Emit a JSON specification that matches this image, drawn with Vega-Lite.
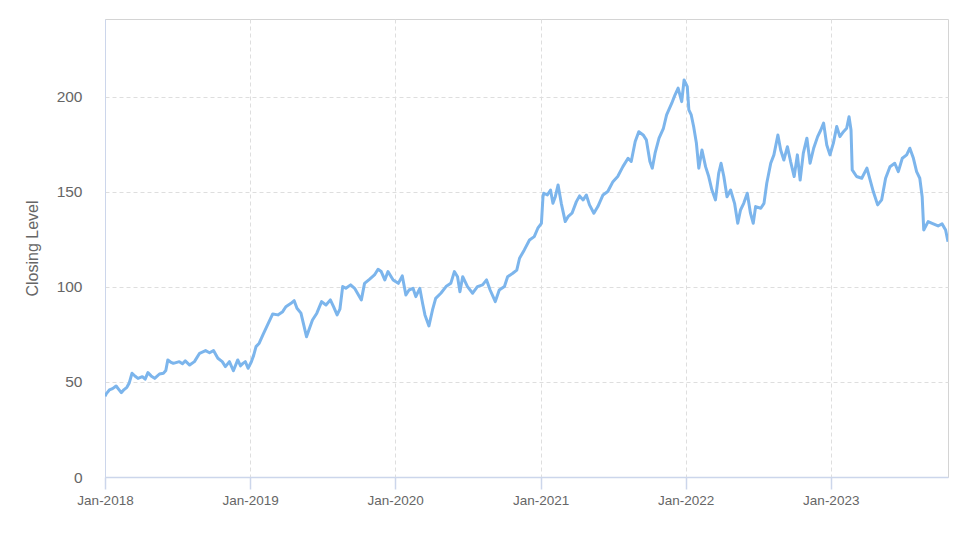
{
  "$schema": "https://vega.github.io/schema/vega-lite/v6.json",
  "width": 843,
  "height": 458,
  "autosize": {"type": "none"},
  "padding": {"left": 105, "top": 19, "right": 26, "bottom": 70},
  "background": "#ffffff",
  "config": {
    "view": {"stroke": "#d4d4d4", "strokeWidth": 1},
    "font": "Liberation Sans"
  },
  "data": {
    "values": [
      {"date": "2018-01-01", "close": 42.5},
      {"date": "2018-01-05", "close": 44.0},
      {"date": "2018-01-12", "close": 45.8},
      {"date": "2018-01-20", "close": 46.5},
      {"date": "2018-01-29", "close": 47.9},
      {"date": "2018-02-05", "close": 46.0},
      {"date": "2018-02-11", "close": 44.4},
      {"date": "2018-02-18", "close": 46.0},
      {"date": "2018-02-25", "close": 47.2},
      {"date": "2018-03-03", "close": 49.5},
      {"date": "2018-03-10", "close": 54.6},
      {"date": "2018-03-18", "close": 53.0},
      {"date": "2018-03-25", "close": 51.9},
      {"date": "2018-04-05", "close": 52.8},
      {"date": "2018-04-12", "close": 51.5},
      {"date": "2018-04-19", "close": 54.9},
      {"date": "2018-04-27", "close": 53.2},
      {"date": "2018-05-06", "close": 51.9},
      {"date": "2018-05-18", "close": 54.2},
      {"date": "2018-05-28", "close": 54.6},
      {"date": "2018-06-03", "close": 56.0},
      {"date": "2018-06-08", "close": 61.6},
      {"date": "2018-06-15", "close": 60.5},
      {"date": "2018-06-22", "close": 59.8},
      {"date": "2018-07-07", "close": 60.7},
      {"date": "2018-07-15", "close": 59.6},
      {"date": "2018-07-22", "close": 61.1},
      {"date": "2018-08-02", "close": 58.9},
      {"date": "2018-08-14", "close": 60.7},
      {"date": "2018-08-27", "close": 65.1},
      {"date": "2018-09-11", "close": 66.5},
      {"date": "2018-09-21", "close": 65.4},
      {"date": "2018-10-01", "close": 66.5},
      {"date": "2018-10-12", "close": 62.5},
      {"date": "2018-10-23", "close": 60.7},
      {"date": "2018-10-31", "close": 58.1},
      {"date": "2018-11-10", "close": 60.7},
      {"date": "2018-11-20", "close": 55.9},
      {"date": "2018-12-01", "close": 61.6},
      {"date": "2018-12-08", "close": 58.5},
      {"date": "2018-12-14", "close": 59.8},
      {"date": "2018-12-20", "close": 60.7},
      {"date": "2018-12-27", "close": 57.2},
      {"date": "2019-01-04", "close": 60.5},
      {"date": "2019-01-10", "close": 64.0},
      {"date": "2019-01-16", "close": 68.6},
      {"date": "2019-01-24", "close": 70.4},
      {"date": "2019-02-02", "close": 74.7},
      {"date": "2019-02-14", "close": 80.0},
      {"date": "2019-02-27", "close": 85.8},
      {"date": "2019-03-12", "close": 85.3},
      {"date": "2019-03-24", "close": 87.0},
      {"date": "2019-04-01", "close": 89.6},
      {"date": "2019-04-14", "close": 91.4},
      {"date": "2019-04-22", "close": 92.8},
      {"date": "2019-04-29", "close": 88.8},
      {"date": "2019-05-09", "close": 86.2},
      {"date": "2019-05-16", "close": 80.0},
      {"date": "2019-05-23", "close": 73.8},
      {"date": "2019-05-29", "close": 77.4},
      {"date": "2019-06-07", "close": 82.6},
      {"date": "2019-06-18", "close": 86.2},
      {"date": "2019-06-30", "close": 92.3},
      {"date": "2019-07-11", "close": 90.5},
      {"date": "2019-07-22", "close": 93.2},
      {"date": "2019-07-30", "close": 89.6},
      {"date": "2019-08-08", "close": 85.3},
      {"date": "2019-08-15", "close": 88.3},
      {"date": "2019-08-22", "close": 100.2},
      {"date": "2019-08-30", "close": 99.3},
      {"date": "2019-09-11", "close": 101.1},
      {"date": "2019-09-21", "close": 99.3},
      {"date": "2019-10-08", "close": 93.2},
      {"date": "2019-10-16", "close": 101.9},
      {"date": "2019-10-29", "close": 104.1},
      {"date": "2019-11-10", "close": 106.3},
      {"date": "2019-11-19", "close": 109.3},
      {"date": "2019-11-27", "close": 108.1},
      {"date": "2019-12-06", "close": 103.7},
      {"date": "2019-12-14", "close": 108.1},
      {"date": "2019-12-27", "close": 103.7},
      {"date": "2020-01-09", "close": 101.9},
      {"date": "2020-01-19", "close": 105.8},
      {"date": "2020-01-28", "close": 95.8},
      {"date": "2020-02-05", "close": 98.4},
      {"date": "2020-02-15", "close": 99.3},
      {"date": "2020-02-22", "close": 94.9},
      {"date": "2020-03-03", "close": 99.3},
      {"date": "2020-03-10", "close": 91.4},
      {"date": "2020-03-16", "close": 85.3},
      {"date": "2020-03-26", "close": 79.5},
      {"date": "2020-04-04", "close": 87.9},
      {"date": "2020-04-12", "close": 94.0},
      {"date": "2020-04-25", "close": 96.7},
      {"date": "2020-05-08", "close": 100.2},
      {"date": "2020-05-20", "close": 101.9},
      {"date": "2020-05-29", "close": 108.1},
      {"date": "2020-06-06", "close": 105.4},
      {"date": "2020-06-12", "close": 97.5},
      {"date": "2020-06-19", "close": 105.4},
      {"date": "2020-07-01", "close": 100.2},
      {"date": "2020-07-14", "close": 96.7},
      {"date": "2020-07-26", "close": 100.2},
      {"date": "2020-08-08", "close": 101.1},
      {"date": "2020-08-18", "close": 103.7},
      {"date": "2020-08-27", "close": 98.4},
      {"date": "2020-09-09", "close": 92.3},
      {"date": "2020-09-19", "close": 98.4},
      {"date": "2020-10-02", "close": 100.2},
      {"date": "2020-10-10", "close": 105.4},
      {"date": "2020-10-23", "close": 107.2},
      {"date": "2020-11-02", "close": 108.9},
      {"date": "2020-11-09", "close": 115.1},
      {"date": "2020-11-21", "close": 119.5},
      {"date": "2020-12-04", "close": 124.7},
      {"date": "2020-12-16", "close": 126.5},
      {"date": "2020-12-25", "close": 130.9},
      {"date": "2021-01-03", "close": 133.5},
      {"date": "2021-01-07", "close": 147.5},
      {"date": "2021-01-09", "close": 149.3},
      {"date": "2021-01-18", "close": 148.4},
      {"date": "2021-01-26", "close": 151.0},
      {"date": "2021-02-01", "close": 144.0},
      {"date": "2021-02-07", "close": 147.5},
      {"date": "2021-02-14", "close": 153.7},
      {"date": "2021-02-22", "close": 144.0},
      {"date": "2021-03-04", "close": 134.4},
      {"date": "2021-03-11", "close": 137.0},
      {"date": "2021-03-21", "close": 138.8},
      {"date": "2021-04-01", "close": 144.9},
      {"date": "2021-04-09", "close": 147.9},
      {"date": "2021-04-18", "close": 145.8},
      {"date": "2021-04-26", "close": 148.4},
      {"date": "2021-05-04", "close": 143.2},
      {"date": "2021-05-15", "close": 138.8},
      {"date": "2021-05-25", "close": 142.3},
      {"date": "2021-06-07", "close": 148.4},
      {"date": "2021-06-19", "close": 150.2},
      {"date": "2021-07-02", "close": 155.4},
      {"date": "2021-07-14", "close": 158.1},
      {"date": "2021-07-27", "close": 163.3},
      {"date": "2021-08-09", "close": 167.7},
      {"date": "2021-08-17", "close": 166.0},
      {"date": "2021-08-27", "close": 176.5},
      {"date": "2021-09-05", "close": 181.7},
      {"date": "2021-09-16", "close": 180.0},
      {"date": "2021-09-24", "close": 177.4},
      {"date": "2021-10-03", "close": 166.0},
      {"date": "2021-10-09", "close": 162.5},
      {"date": "2021-10-16", "close": 170.4},
      {"date": "2021-10-26", "close": 178.3},
      {"date": "2021-11-06", "close": 183.5},
      {"date": "2021-11-14", "close": 190.5},
      {"date": "2021-11-27", "close": 196.7},
      {"date": "2021-12-05", "close": 201.0},
      {"date": "2021-12-13", "close": 204.6},
      {"date": "2021-12-22", "close": 197.5},
      {"date": "2021-12-28", "close": 208.9},
      {"date": "2022-01-05", "close": 205.4},
      {"date": "2022-01-09", "close": 193.2},
      {"date": "2022-01-15", "close": 190.5},
      {"date": "2022-01-21", "close": 184.4},
      {"date": "2022-01-28", "close": 175.6},
      {"date": "2022-02-03", "close": 162.5},
      {"date": "2022-02-11", "close": 172.1},
      {"date": "2022-02-20", "close": 163.3},
      {"date": "2022-02-28", "close": 158.1},
      {"date": "2022-03-08", "close": 151.0},
      {"date": "2022-03-17", "close": 145.8},
      {"date": "2022-03-25", "close": 159.8},
      {"date": "2022-03-31", "close": 165.1},
      {"date": "2022-04-07", "close": 158.1},
      {"date": "2022-04-15", "close": 147.5},
      {"date": "2022-04-24", "close": 151.0},
      {"date": "2022-05-04", "close": 144.0},
      {"date": "2022-05-12", "close": 133.5},
      {"date": "2022-05-19", "close": 140.5},
      {"date": "2022-05-27", "close": 144.0},
      {"date": "2022-06-05", "close": 149.3},
      {"date": "2022-06-13", "close": 138.8},
      {"date": "2022-06-20", "close": 133.5},
      {"date": "2022-06-26", "close": 142.3},
      {"date": "2022-07-09", "close": 141.4},
      {"date": "2022-07-17", "close": 144.0},
      {"date": "2022-07-24", "close": 154.6},
      {"date": "2022-08-03", "close": 165.1},
      {"date": "2022-08-11", "close": 169.5},
      {"date": "2022-08-21", "close": 180.0},
      {"date": "2022-08-28", "close": 172.1},
      {"date": "2022-09-05", "close": 166.8},
      {"date": "2022-09-14", "close": 173.8},
      {"date": "2022-09-22", "close": 166.0},
      {"date": "2022-10-01", "close": 158.1},
      {"date": "2022-10-09", "close": 169.5},
      {"date": "2022-10-16", "close": 156.3},
      {"date": "2022-10-24", "close": 170.4},
      {"date": "2022-11-02", "close": 178.3},
      {"date": "2022-11-10", "close": 165.1},
      {"date": "2022-11-19", "close": 173.0},
      {"date": "2022-11-29", "close": 179.1},
      {"date": "2022-12-07", "close": 182.6},
      {"date": "2022-12-14", "close": 186.2},
      {"date": "2022-12-22", "close": 174.7},
      {"date": "2022-12-30", "close": 169.5},
      {"date": "2023-01-08", "close": 176.0},
      {"date": "2023-01-16", "close": 184.4},
      {"date": "2023-01-24", "close": 179.1},
      {"date": "2023-02-02", "close": 181.7},
      {"date": "2023-02-10", "close": 183.5},
      {"date": "2023-02-16", "close": 189.6},
      {"date": "2023-02-21", "close": 182.6},
      {"date": "2023-02-24", "close": 161.6},
      {"date": "2023-03-07", "close": 158.1},
      {"date": "2023-03-20", "close": 157.2},
      {"date": "2023-04-02", "close": 162.5},
      {"date": "2023-04-10", "close": 156.3},
      {"date": "2023-04-18", "close": 150.2},
      {"date": "2023-04-29", "close": 143.2},
      {"date": "2023-05-09", "close": 145.8},
      {"date": "2023-05-19", "close": 157.2},
      {"date": "2023-05-30", "close": 163.3},
      {"date": "2023-06-11", "close": 165.1},
      {"date": "2023-06-20", "close": 160.7},
      {"date": "2023-06-30", "close": 167.7},
      {"date": "2023-07-11", "close": 169.5},
      {"date": "2023-07-19", "close": 173.0},
      {"date": "2023-07-28", "close": 167.7},
      {"date": "2023-08-05", "close": 160.7},
      {"date": "2023-08-13", "close": 157.2},
      {"date": "2023-08-19", "close": 147.5},
      {"date": "2023-08-23", "close": 130.0},
      {"date": "2023-09-03", "close": 134.4},
      {"date": "2023-09-16", "close": 133.2},
      {"date": "2023-09-28", "close": 132.1},
      {"date": "2023-10-08", "close": 133.2},
      {"date": "2023-10-17", "close": 130.0},
      {"date": "2023-10-23", "close": 123.8}
    ]
  },
  "mark": {"type": "line", "color": "#7cb5ec", "strokeWidth": 3, "strokeJoin": "round", "clip": true},
  "encoding": {
    "x": {
      "field": "date",
      "type": "temporal",
      "scale": {"type": "utc", "domain": [{"year": 2018, "month": 1, "date": 1, "utc": true}, {"year": 2023, "month": 10, "date": 23, "utc": true}], "nice": false},
      "axis": {
        "title": null,
        "labelExpr": "utcFormat(datum.value, '%b-%Y')",
        "values": [
          {"year": 2018, "month": 1, "date": 1, "utc": true},
          {"year": 2019, "month": 1, "date": 1, "utc": true},
          {"year": 2020, "month": 1, "date": 1, "utc": true},
          {"year": 2021, "month": 1, "date": 1, "utc": true},
          {"year": 2022, "month": 1, "date": 1, "utc": true},
          {"year": 2023, "month": 1, "date": 1, "utc": true}
        ],
        "labelFont": "Liberation Sans",
        "labelFontSize": 13.5,
        "labelColor": "#666666",
        "labelPadding": 4,
        "labelFlush": false,
        "labelOverlap": false,
        "domainColor": "#ccd6eb",
        "domainWidth": 1.5,
        "tickColor": "#ccd6eb",
        "tickSize": 12,
        "tickWidth": 1.5,
        "grid": true,
        "gridColor": "#dedede",
        "gridDash": [4, 3],
        "gridWidth": 1
      }
    },
    "y": {
      "field": "close",
      "type": "quantitative",
      "scale": {"domain": [0, 241], "nice": false, "zero": true},
      "axis": {
        "title": "Closing Level",
        "titleFont": "Liberation Sans",
        "titleFontSize": 16,
        "titleFontWeight": "normal",
        "titleColor": "#666666",
        "titlePadding": 16,
        "values": [0, 50, 100, 150, 200],
        "labelFont": "Liberation Sans",
        "labelFontSize": 15.5,
        "labelColor": "#666666",
        "labelPadding": 23,
        "ticks": false,
        "domain": true,
        "domainColor": "#ccd6eb",
        "domainWidth": 1,
        "grid": true,
        "gridColor": "#dedede",
        "gridDash": [4, 3],
        "gridWidth": 1
      }
    }
  }
}
